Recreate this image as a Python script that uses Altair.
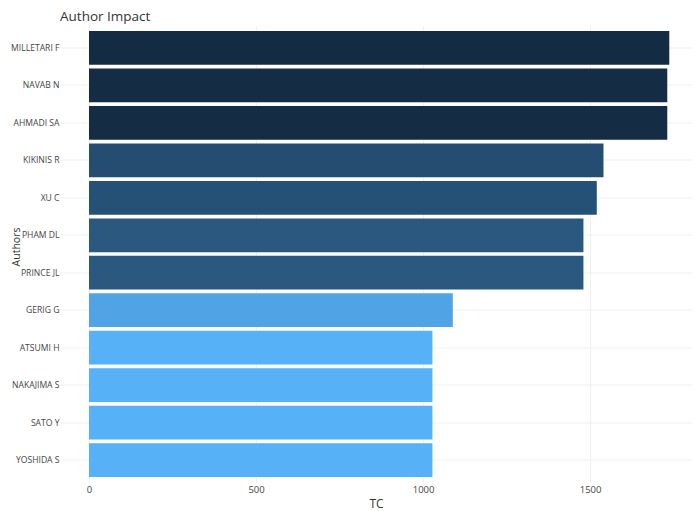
import altair as alt
import pandas as pd

authors = ["MILLETARI F", "NAVAB N", "AHMADI SA", "KIKINIS R", "XU C", "PHAM DL",
           "PRINCE JL", "GERIG G", "ATSUMI H", "NAKAJIMA S", "SATO Y", "YOSHIDA S"]
tc = [1737, 1731, 1731, 1540, 1520, 1480, 1480, 1089, 1028, 1028, 1028, 1028]
x_ticks = [0, 500, 1000, 1500]

df = pd.DataFrame({"Authors": authors, "TC": tc})

FONT = "Open Sans"

chart = alt.Chart(df).mark_bar().encode(
    y=alt.Y("Authors:N", sort=authors,
            scale=alt.Scale(paddingInner=0.1, paddingOuter=0.15),
            axis=alt.Axis(title="Authors", ticks=False, domain=False,
                          labelFont=FONT, labelFontSize=8.6, labelColor="#444444",
                          labelPadding=1, grid=True, gridColor="#efefef",
                          bandPosition=0.5,
                          titleFont=FONT, titleFontSize=10.5, titleFontWeight="normal",
                          titleColor="#333333", titleAngle=270, titleAlign="center",
                          titleBaseline="alphabetic", titleX=-40.5, titleY=221)),
    x=alt.X("TC:Q",
            scale=alt.Scale(domain=[-86.8, 1805], nice=False, zero=False),
            axis=alt.Axis(title="TC", values=x_ticks, format="d", ticks=False, domain=False,
                          labelFont=FONT, labelFontSize=9.5, labelColor="#444444",
                          labelPadding=2, grid=True, gridColor="#efefef",
                          titleFont=FONT, titleFontSize=12, titleFontWeight="normal",
                          titleColor="#333333", titlePadding=4)),
    color=alt.Color("TC:Q",
                    scale=alt.Scale(range=["#56B1F7", "#132B43"], zero=False, nice=False,
                                    interpolate="lab"),
                    legend=None),
).properties(
    width=632,
    height=457,
    title=alt.Title("Author Impact", anchor="start", frame="group", font=FONT,
                    fontSize=13.5, fontWeight="normal", color="#333333", offset=2),
    autosize=alt.AutoSizeParams(type="none"),
    padding={"left": 52, "top": 17.5, "right": 0, "bottom": 28.5},
).configure_view(strokeWidth=0)

chart.save("out.html", embed_options={"renderer": "svg", "actions": False})
